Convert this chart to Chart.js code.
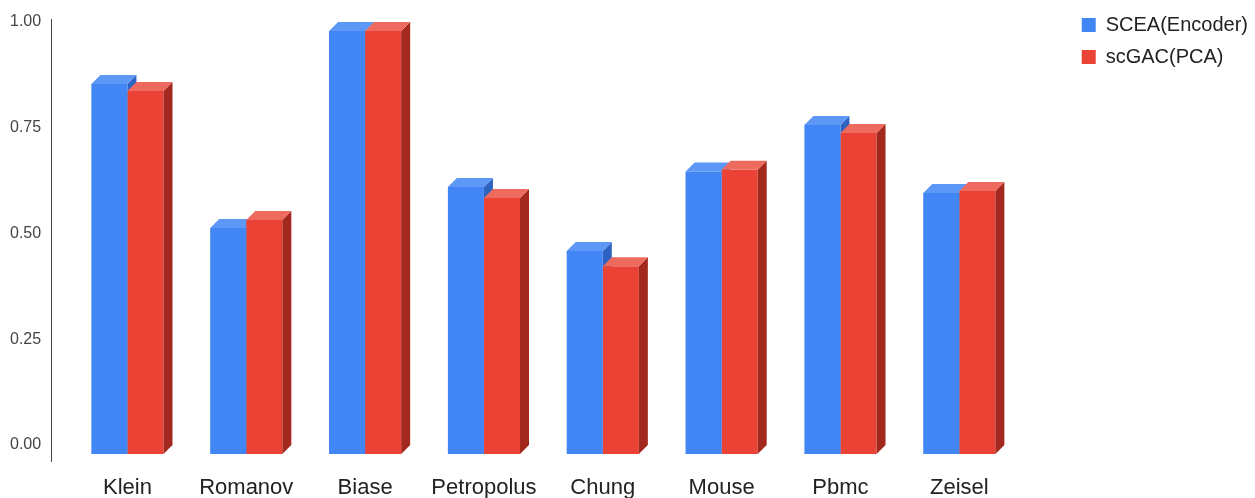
<!DOCTYPE html>
<html>
<head>
<meta charset="utf-8">
<title>SCEA vs scGAC</title>
<script src="https://cdn.jsdelivr.net/npm/chart.js@4.4.1/dist/chart.umd.min.js"></script>
<style>
  html, body { margin: 0; padding: 0; background: #ffffff; }
  #wrap { width: 1255px; height: 498px; }
</style>
</head>
<body>
<div id="wrap"><canvas id="chart" width="1255" height="498"></canvas></div>
<script>
// Dataset names and their scores per sample set
const categories = ['Klein', 'Romanov', 'Biase', 'Petropolus', 'Chung', 'Mouse', 'Pbmc', 'Zeisel'];
const sceaEncoder = [0.875, 0.534, 1.0, 0.631, 0.480, 0.668, 0.778, 0.617];
const scgacPca = [0.858, 0.553, 1.0, 0.605, 0.444, 0.672, 0.759, 0.622];
const yTickValues = [0, 0.25, 0.5, 0.75, 1.0];

// Face colours for the extruded columns: front, top, side
const faces = [
  { front: '#4285f4', top: '#5d98f6', side: '#2f63c2' },
  { front: '#ea4335', top: '#ee6a5f', side: '#a3291f' }
];
const DEPTH = 9;

function drawFaces(chart, datasetIndex) {
  const ctx = chart.ctx;
  const meta = chart.getDatasetMeta(datasetIndex);
  const c = faces[datasetIndex];
  ctx.save();
  meta.data.forEach(bar => {
    const p = bar.getProps(['x', 'y', 'base', 'width'], true);
    const L = p.x - p.width / 2, R = p.x + p.width / 2;
    const top = Math.min(p.y, p.base), bottom = Math.max(p.y, p.base);
    // side face
    ctx.fillStyle = c.side;
    ctx.beginPath();
    ctx.moveTo(R, top);
    ctx.lineTo(R + DEPTH, top - DEPTH);
    ctx.lineTo(R + DEPTH, bottom - DEPTH);
    ctx.lineTo(R, bottom);
    ctx.closePath();
    ctx.fill();
    // top face
    ctx.fillStyle = c.top;
    ctx.beginPath();
    ctx.moveTo(L, top);
    ctx.lineTo(L + DEPTH, top - DEPTH);
    ctx.lineTo(R + DEPTH, top - DEPTH);
    ctx.lineTo(R, top);
    ctx.closePath();
    ctx.fill();
  });
  ctx.restore();
}

const columns3d = {
  id: 'columns3d',
  beforeDatasetsDraw(chart) { drawFaces(chart, 0); },
  afterDatasetsDraw(chart) { drawFaces(chart, 1); }
};

// Vertical value axis line, drawn left of the plot
const valueAxisLine = {
  id: 'valueAxisLine',
  afterDraw(chart) {
    const y = chart.scales.y;
    const area = chart.chartArea;
    const ctx = chart.ctx;
    const x = Math.round(area.left - 17) + 0.5;
    ctx.save();
    ctx.strokeStyle = '#444444';
    ctx.lineWidth = 1;
    ctx.beginPath();
    ctx.moveTo(x, y.getPixelForValue(1) - 12);
    ctx.lineTo(x, area.bottom + 8);
    ctx.stroke();
    ctx.restore();
  }
};

new Chart(document.getElementById('chart'), {
  type: 'bar',
  data: {
    labels: categories,
    datasets: [
      { label: 'SCEA(Encoder)', data: sceaEncoder, backgroundColor: faces[0].front, borderWidth: 0 },
      { label: 'scGAC(PCA)', data: scgacPca, backgroundColor: faces[1].front, borderWidth: 0 }
    ]
  },
  options: {
    responsive: false,
    devicePixelRatio: 1,
    animation: false,
    layout: { padding: { top: 3, right: -3, left: 10, bottom: 0 } },
    datasets: { bar: { categoryPercentage: 0.607, barPercentage: 1.0 } },
    plugins: {
      legend: {
        position: 'right',
        align: 'start',
        labels: {
          boxWidth: 14,
          boxHeight: 14,
          padding: 12,
          color: '#222222',
          font: { family: 'Liberation Sans, Arial, sans-serif', size: 20 }
        }
      },
      tooltip: { enabled: false }
    },
    scales: {
      x: {
        grid: { display: false, drawTicks: false },
        border: { display: false },
        ticks: {
          color: '#222222',
          padding: 21,
          font: { family: 'Liberation Sans, Arial, sans-serif', size: 22 }
        },
        afterFit(s) { s.height = 44; }
      },
      y: {
        min: 0,
        max: 1.0506,
        grid: { display: false, drawTicks: false },
        border: { display: false },
        afterBuildTicks(s) { s.ticks = yTickValues.map(v => ({ value: v })); },
        ticks: {
          color: '#444444',
          padding: 0,
          crossAlign: 'far',
          labelOffset: -9,
          font: { family: 'Liberation Sans, Arial, sans-serif', size: 16 },
          callback: v => Number(v).toFixed(2)
        },
        afterFit(s) { s.width = 58; }
      },
      gap: {
        position: 'right',
        display: true,
        grid: { display: false, drawTicks: false },
        border: { display: false },
        ticks: { display: false },
        afterFit(s) { s.width = 51; }
      }
    }
  },
  plugins: [columns3d, valueAxisLine]
});
</script>
</body>
</html>
